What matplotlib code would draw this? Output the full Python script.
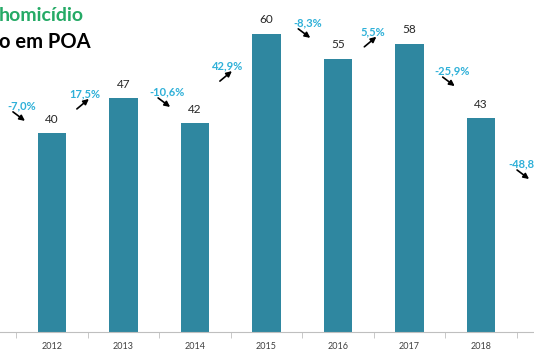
import matplotlib
matplotlib.use('Agg')
import matplotlib.pyplot as plt
from matplotlib.transforms import offset_copy

years = ['2012', '2013', '2014', '2015', '2016', '2017', '2018']
values = [40, 47, 42, 60, 55, 58, 43]
pct_labels = ['-7,0%', '17,5%', '-10,6%', '42,9%', '-8,3%', '5,5%', '-25,9%', '-48,8%']
pct_up = [False, True, False, True, False, True, False, False]
# where each variation label sits (category index, value units)
pct_x = [-0.42, 0.46, 1.61, 2.46, 3.57, 4.48, 5.59, 6.63]
pct_y = [45.5, 47.9, 48.3, 53.5, 62.2, 60.4, 52.5, 33.8]

bar_color = '#2f87a0'
pct_color = '#2eb0d8'
green = '#25aa66'

plt.rcParams['font.family'] = ['Lato', 'DejaVu Sans']

fig = plt.figure(figsize=(5.34, 3.54), dpi=100)
ax = fig.add_axes([0, 0, 1, 1])

x = list(range(len(years)))
ax.bar(x, values, width=0.4, color=bar_color, zorder=2)

for xi, v in zip(x, values):
    ax.annotate(str(v), (xi, v), xytext=(0, 6), textcoords='offset points',
                ha='center', va='bottom', fontsize=8.5, color='#262626')

for lab, up, px, py in zip(pct_labels, pct_up, pct_x, pct_y):
    ax.text(px, py, lab, ha='center', va='center', fontsize=8,
            fontweight='bold', color=pct_color)
    if up:
        head = offset_copy(ax.transData, fig=fig, x=4, y=-5, units='dots')
        tail = (-12, -10)
    else:
        head = offset_copy(ax.transData, fig=fig, x=3, y=-15, units='dots')
        tail = (-12, 9)
    ax.annotate('', xy=(px, py), xycoords=head, xytext=tail,
                textcoords='offset pixels',
                arrowprops=dict(arrowstyle='-|>', color='black', lw=1.2,
                                mutation_scale=8, shrinkA=0, shrinkB=0))

ax.set_xlim(-0.727, 6.741)
ax.set_ylim(-4.43, 66.8)

for s in ['top', 'right', 'left']:
    ax.spines[s].set_visible(False)
ax.spines['bottom'].set_position(('data', 0))
ax.spines['bottom'].set_color('#bfbfbf')
ax.set_yticks([])

ax.set_xticks(x)
ax.set_xticklabels(years, fontsize=6.5, color='#404040')
ax.tick_params(axis='x', which='major', length=0, pad=7)
ax.set_xticks([i - 0.5 for i in range(len(years) + 1)], minor=True)
ax.tick_params(axis='x', which='minor', length=4, color='#bfbfbf')

fig.text(-0.002, 0.955, 'homicídio', fontsize=14, fontweight='bold',
         color=green, ha='left', va='center')
fig.text(-0.002, 0.88, 'o em POA', fontsize=14.5, fontweight='bold',
         color='black', ha='left', va='center')

fig.savefig('out.png', dpi=100)
